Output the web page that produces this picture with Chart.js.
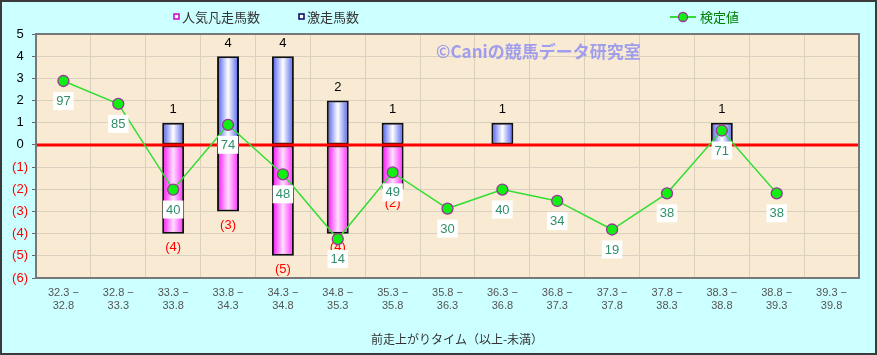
<!DOCTYPE html>
<html>
<head>
<meta charset="utf-8">
<script src="https://cdn.jsdelivr.net/npm/chart.js@4/dist/chart.umd.min.js"></script>
<style>
html,body{margin:0;padding:0;background:#ccffff;}
#wrap{width:877px;height:355px;position:relative;}
canvas{display:block;}
</style>
</head>
<body>
<div id="wrap"><canvas id="c" width="877" height="355"></canvas></div>
<script>
// ---- data ----
const categories = ['32.3 − 32.8','32.8 − 33.3','33.3 − 33.8','33.8 − 34.3','34.3 − 34.8','34.8 − 35.3','35.3 − 35.8','35.8 − 36.3','36.3 − 36.8','36.8 − 37.3','37.3 − 37.8','37.8 − 38.3','38.3 − 38.8','38.8 − 39.3','39.3 − 39.8'];
const gekisouCounts = [0,0,1,4,4,2,1,0,1,0,0,0,1,0,0];      // 激走馬数
const bonsouCounts  = [0,0,4,3,5,4,2,0,0,0,0,0,0,0,0];      // 人気凡走馬数
const kenteiValues  = [97,85,40,74,48,14,49,30,40,34,19,38,71,38,null]; // 検定値
const yTicks = [5,4,3,2,1,0,-1,-2,-3,-4,-5,-6];
const seriesNames = ['人気凡走馬数','激走馬数','検定値'];
const xTitle = '前走上がりタイム（以上-未満）';
const watermark = '©Caniの競馬データ研究室';

const JP = '"Noto Sans CJK JP", "Liberation Sans", sans-serif';
const NUM = '"Liberation Sans", Arial, sans-serif';
const BAR_PCT = 0.4;

function barGradient(ctx, stops){
  const chart = ctx.chart;
  const xs = chart.scales.x;
  if(!xs || isNaN(xs.getPixelForValue(0))) return stops[0];
  const cx = xs.getPixelForValue(ctx.dataIndex);
  const w = (xs.getPixelForValue(1) - xs.getPixelForValue(0)) * BAR_PCT;
  const g = chart.ctx.createLinearGradient(cx - w/2, 0, cx + w/2, 0);
  g.addColorStop(0, stops[0]);
  g.addColorStop(0.5, stops[1]);
  g.addColorStop(1, stops[2]);
  return g;
}

const bgPlugin = {
  id:'bg',
  beforeDraw(chart){
    const {ctx, chartArea:a} = chart;
    ctx.save();
    ctx.fillStyle = '#ccffff';
    ctx.fillRect(0,0,chart.width,chart.height);
    ctx.fillStyle = '#f9ebd3';
    ctx.fillRect(a.left, a.top, a.right-a.left, a.bottom-a.top);
    ctx.restore();
  },
  beforeDatasetsDraw(chart){
    const {ctx} = chart;
    ctx.save();
    ctx.font = 'bold 17px ' + JP;
    ctx.fillStyle = 'rgba(150,150,238,0.9)';
    ctx.textBaseline = 'alphabetic';
    ctx.textAlign = 'left';
    ctx.fillText(watermark, 436, 58);
    ctx.restore();
  },
  beforeDatasetDraw(chart, args){
    if(args.index !== 2) return;
    const {ctx, chartArea:a, scales} = chart;
    const y0 = scales.y.getPixelForValue(0);
    ctx.save();
    ctx.strokeStyle = '#ff0000';
    ctx.lineWidth = 3;
    ctx.beginPath();
    ctx.moveTo(a.left, y0); ctx.lineTo(a.right, y0);
    ctx.stroke();
    // bar labels
    ctx.font = '13px ' + NUM;
    ctx.textAlign = 'center';
    ctx.textBaseline = 'middle';
    const mPos = chart.getDatasetMeta(1);
    mPos.data.forEach((el,i)=>{
      if(!gekisouCounts[i]) return;
      ctx.fillStyle = '#000';
      ctx.fillText(String(gekisouCounts[i]), el.x, el.y - 13);
    });
    const mNeg = chart.getDatasetMeta(0);
    mNeg.data.forEach((el,i)=>{
      if(!bonsouCounts[i]) return;
      ctx.fillStyle = '#ff0000';
      ctx.fillText('(' + bonsouCounts[i] + ')', el.x, el.y + 14);
    });
    ctx.restore();
  },
  afterDatasetsDraw(chart){
    const {ctx, chartArea:a} = chart;
    ctx.save();
    const m = chart.getDatasetMeta(2);
    ctx.font = '13px ' + NUM;
    ctx.textAlign = 'center';
    ctx.textBaseline = 'middle';
    m.data.forEach((el,i)=>{
      const v = kenteiValues[i];
      if(v === null || v === undefined) return;
      const t = String(v);
      const w = ctx.measureText(t).width + 6;
      const cy = el.y + 20;
      ctx.fillStyle = '#ffffff';
      ctx.fillRect(el.x - w/2, cy - 9, w, 18);
      ctx.fillStyle = '#2f8f6a';
      ctx.fillText(t, el.x, cy + 0.5);
    });
    // plot border
    ctx.strokeStyle = '#777777';
    ctx.lineWidth = 2;
    ctx.strokeRect(a.left, a.top, a.right-a.left, a.bottom-a.top);
    // x title
    ctx.font = '12px ' + JP;
    ctx.fillStyle = '#333';
    ctx.fillText(xTitle, 457, 339);
    // legend
    ctx.textAlign = 'left';
    ctx.font = '13px ' + JP;
    ctx.lineWidth = 1.5;
    ctx.strokeStyle = '#cc00cc';
    ctx.fillStyle = '#fff';
    ctx.fillRect(174,14,5,5); ctx.strokeRect(174,14,5,5);
    ctx.strokeStyle = '#000066';
    ctx.fillRect(299,14,5,5); ctx.strokeRect(299,14,5,5);
    ctx.fillStyle = '#333';
    ctx.fillText(seriesNames[0], 182, 17);
    ctx.fillText(seriesNames[1], 307, 17);
    ctx.strokeStyle = '#33dd33';
    ctx.lineWidth = 2;
    ctx.beginPath(); ctx.moveTo(670,17); ctx.lineTo(696,17); ctx.stroke();
    ctx.beginPath(); ctx.arc(683,17,4.5,0,Math.PI*2);
    ctx.fillStyle = '#11ee11'; ctx.fill();
    ctx.strokeStyle = '#993399'; ctx.lineWidth = 1.3; ctx.stroke();
    ctx.fillStyle = '#008000';
    ctx.fillText(seriesNames[2], 700, 17);
    // outer border
    ctx.strokeStyle = '#3a3a3a';
    ctx.lineWidth = 2;
    ctx.strokeRect(1,1,chart.width-2,chart.height-2);
    ctx.restore();
  }
};

new Chart(document.getElementById('c'), {
  data:{
    labels: categories,
    datasets:[
      {
        type:'bar', label:seriesNames[0], order:2,
        data: bonsouCounts.map(v => v ? -v : null),
        backgroundColor: ctx => barGradient(ctx, ['#ff00ff','#ffe0ff','#ff22ff']),
        borderColor:'#111', borderWidth:2, borderSkipped:false,
        barPercentage:BAR_PCT, categoryPercentage:1, yAxisID:'y', stack:'s'
      },
      {
        type:'bar', label:seriesNames[1], order:2,
        data: gekisouCounts.map(v => v ? v : null),
        backgroundColor: ctx => barGradient(ctx, ['#4455ee','#ffffff','#4a5bee']),
        borderColor:'#111', borderWidth:2, borderSkipped:false,
        barPercentage:BAR_PCT, categoryPercentage:1, yAxisID:'y', stack:'s'
      },
      {
        type:'line', label:seriesNames[2], order:0,
        data: kenteiValues,
        borderColor:'#33dd33', borderWidth:1.5,
        pointBackgroundColor:'#11ee11', pointBorderColor:'#993399',
        pointBorderWidth:1.3, pointRadius:5.5, yAxisID:'y2', spanGaps:false
      }
    ]
  },
  options:{
    responsive:false, animation:false,
    layout:{padding:{left:0,right:18,top:34,bottom:0}},
    plugins:{legend:{display:false}, tooltip:{enabled:false}},
    scales:{
      x:{
        stacked:true,
        grid:{color:'#d9d0c0', borderDash:[2,2], drawTicks:false, offset:true},
        border:{display:false},
        ticks:{
          color:'#555', font:{size:11, family:NUM, lineHeight:1.15}, padding:9,
          maxRotation:0, autoSkip:false,
          callback:function(v,i){ const p = categories[i].split(' '); return [p[0]+' −', p[2]]; }
        },
        afterFit(s){ s.height = 77; }
      },
      y:{
        stacked:true, min:-6, max:5,
        afterBuildTicks(s){ s.ticks = yTicks.map(v=>({value:v})); },
        grid:{color:'#d9d0c0', borderDash:[2,2], tickColor:'#666', tickLength:4, tickBorderDash:[]},
        border:{display:false},
        ticks:{
          stepSize:1, crossAlign:'center', padding:4,
          font:{size:13, family:NUM},
          color: c => (c.tick && c.tick.value < 0) ? '#ff0000' : '#000000',
          callback: v => v < 0 ? '(' + (-v) + ')' : String(v)
        },
        afterFit(s){ s.width = 36; }
      },
      y2:{
        display:false, min:-6.47, max:121.7, position:'right'
      }
    }
  },
  plugins:[bgPlugin]
});
</script>
</body>
</html>
